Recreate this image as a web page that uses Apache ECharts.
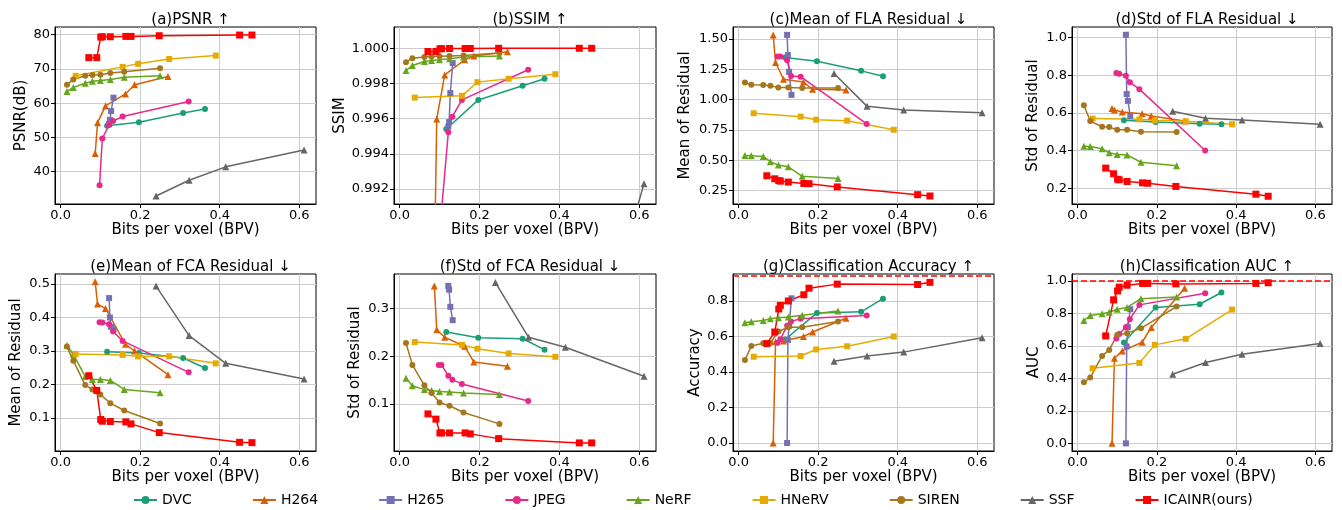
<!DOCTYPE html>
<html>
<head>
<meta charset="utf-8">
<script src="https://cdn.jsdelivr.net/npm/echarts@6/dist/echarts.min.js"></script>
<style>
html,body{margin:0;padding:0;background:#fff;}
#chart{width:1342px;height:510px;}
</style>
</head>
<body>
<div id="chart"></div>
<script>
// ---- data (method order: DVC, H264, H265, JPEG, NeRF, HNeRV, SIREN, SSF, ICAINR) ----
const methods = ['DVC', 'H264', 'H265', 'JPEG', 'NeRF', 'HNeRV', 'SIREN', 'SSF', 'ICAINR(ours)'];

const bpv = [
  [0.117, 0.197, 0.308, 0.363],
  [0.087, 0.093, 0.113, 0.163, 0.186, 0.270],
  [0.122, 0.124, 0.127, 0.133],
  [0.098, 0.105, 0.122, 0.132, 0.156, 0.322],
  [0.016, 0.032, 0.062, 0.080, 0.100, 0.125, 0.160, 0.250],
  [0.038, 0.156, 0.195, 0.273, 0.390],
  [0.016, 0.032, 0.062, 0.080, 0.100, 0.125, 0.160, 0.250],
  [0.240, 0.323, 0.415, 0.612],
  [0.071, 0.091, 0.101, 0.105, 0.125, 0.164, 0.177, 0.248, 0.450, 0.481]
];

const psnr = [
  [53.4, 54.4, 57.1, 58.3],
  [45.3, 54.3, 59.2, 62.7, 65.4, 67.8],
  [53.9, 55.1, 57.7, 61.6],
  [36.0, 49.7, 53.6, 54.8, 56.1, 60.5],
  [63.4, 64.6, 65.8, 66.4, 66.6, 66.9, 67.6, 68.0],
  [68.0, 70.6, 71.5, 72.9, 73.9],
  [65.4, 66.9, 68.0, 68.2, 68.3, 68.8, 69.2, 70.2],
  [32.9, 37.5, 41.4, 46.3],
  [73.3, 73.3, 79.3, 79.4, 79.4, 79.5, 79.5, 79.7, 79.9, 79.9]
];

const ssim = [
  [0.99541, 0.99706, 0.99786, 0.99826],
  [0.9873, 0.99598, 0.99848, 0.99934, 0.99955, 0.9998],
  [0.99555, 0.99580, 0.99745, 0.99915],
  [0.979, 0.9908, 0.99522, 0.99611, 0.99706, 0.99877],
  [0.99873, 0.99901, 0.99924, 0.9993, 0.99934, 0.9994, 0.99949, 0.99956],
  [0.99719, 0.99729, 0.99807, 0.99826, 0.99852],
  [0.9992, 0.99943, 0.9995, 0.99953, 0.99954, 0.99956, 0.99958, 0.99972],
  [0.955, 0.965, 0.977, 0.9923],
  [0.99981, 0.99981, 0.99996, 0.99997, 0.99998, 0.99998, 0.99998, 0.99999, 0.99999, 0.99999]
];

const flaMean = [
  [1.348, 1.318, 1.238, 1.194],
  [1.533, 1.307, 1.169, 1.146, 1.086, 1.08],
  [1.535, 1.368, 1.23, 1.04],
  [1.356, 1.356, 1.325, 1.196, 1.19, 0.80],
  [0.54, 0.538, 0.532, 0.488, 0.46, 0.446, 0.368, 0.35],
  [0.888, 0.86, 0.835, 0.827, 0.752],
  [1.141, 1.124, 1.121, 1.116, 1.10, 1.10, 1.097, 1.097],
  [1.216, 0.945, 0.915, 0.893],
  [0.372, 0.347, 0.332, 0.328, 0.32, 0.308, 0.307, 0.28, 0.216, 0.205]
];

const flaStd = [
  [0.561, 0.552, 0.543, 0.540],
  [0.623, 0.616, 0.605, 0.596, 0.584, 0.557],
  [1.014, 0.70, 0.664, 0.584],
  [0.811, 0.808, 0.797, 0.762, 0.726, 0.401],
  [0.424, 0.422, 0.41, 0.389, 0.38, 0.378, 0.339, 0.321],
  [0.570, 0.566, 0.561, 0.556, 0.540],
  [0.641, 0.557, 0.527, 0.525, 0.511, 0.511, 0.50, 0.499],
  [0.609, 0.572, 0.563, 0.54],
  [0.308, 0.278, 0.249, 0.246, 0.237, 0.230, 0.228, 0.211, 0.170, 0.159]
];

const fcaMean = [
  [0.298, 0.294, 0.279, 0.249],
  [0.507, 0.44, 0.427, 0.32, 0.30, 0.229],
  [0.458, 0.40, 0.372, 0.365],
  [0.386, 0.385, 0.38, 0.358, 0.33, 0.236],
  [0.316, 0.29, 0.224, 0.215, 0.215, 0.212, 0.185, 0.175],
  [0.291, 0.288, 0.284, 0.284, 0.263],
  [0.313, 0.271, 0.198, 0.185, 0.17, 0.144, 0.122, 0.083],
  [0.494, 0.346, 0.263, 0.216],
  [0.226, 0.182, 0.095, 0.09, 0.089, 0.088, 0.082, 0.056, 0.027, 0.026]
];

const fcaStd = [
  [0.251, 0.239, 0.237, 0.214],
  [0.348, 0.256, 0.240, 0.221, 0.188, 0.179],
  [0.348, 0.340, 0.304, 0.276],
  [0.182, 0.182, 0.159, 0.151, 0.142, 0.106],
  [0.154, 0.138, 0.130, 0.128, 0.126, 0.125, 0.123, 0.120],
  [0.230, 0.224, 0.216, 0.206, 0.199],
  [0.228, 0.182, 0.139, 0.123, 0.103, 0.096, 0.082, 0.058],
  [0.355, 0.240, 0.219, 0.158],
  [0.079, 0.068, 0.039, 0.039, 0.039, 0.039, 0.037, 0.027, 0.018, 0.018]
];

const accuracy = [
  [0.583, 0.733, 0.739, 0.813],
  [0.0, 0.57, 0.575, 0.60, 0.625, 0.703],
  [0.0, 0.58, 0.66, 0.815],
  [0.565, 0.585, 0.66, 0.685, 0.70, 0.718],
  [0.678, 0.683, 0.69, 0.70, 0.705, 0.71, 0.72, 0.743],
  [0.486, 0.49, 0.527, 0.545, 0.60],
  [0.467, 0.546, 0.562, 0.563, 0.628, 0.652, 0.652, 0.684],
  [0.46, 0.49, 0.512, 0.593],
  [0.56, 0.625, 0.755, 0.775, 0.80, 0.835, 0.872, 0.895, 0.893, 0.905]
];

const auc = [
  [0.62, 0.836, 0.856, 0.928],
  [0.0, 0.524, 0.569, 0.622, 0.713, 0.955],
  [0.0, 0.596, 0.715, 0.825],
  [0.645, 0.673, 0.714, 0.764, 0.852, 0.924],
  [0.756, 0.786, 0.797, 0.807, 0.825, 0.836, 0.89, 0.90],
  [0.462, 0.495, 0.606, 0.643, 0.823],
  [0.376, 0.405, 0.538, 0.575, 0.667, 0.678, 0.708, 0.842],
  [0.425, 0.497, 0.548, 0.614],
  [0.661, 0.883, 0.938, 0.961, 0.973, 0.984, 0.984, 0.981, 0.984, 0.988]
];

// reference (upper bound) lines
const accuracyRef = 0.937;
const aucRef = 0.997;

// tick labels
const xTicks = [0, 0.2, 0.4, 0.6];
const psnrTicks = [40, 50, 60, 70, 80];
const ssimTicks = [0.992, 0.994, 0.996, 0.998, 1.000];
const flaMeanTicks = [0.25, 0.5, 0.75, 1.0, 1.25, 1.5];
const flaStdTicks = [0.2, 0.4, 0.6, 0.8, 1.0];
const fcaMeanTicks = [0.1, 0.2, 0.3, 0.4, 0.5];
const fcaStdTicks = [0.1, 0.2, 0.3];
const accTicks = [0.0, 0.2, 0.4, 0.6, 0.8];
const aucTicks = [0.0, 0.2, 0.4, 0.6, 0.8, 1.0];

// ---- styling / layout ----
const colors = ['#1b9e77', '#d95f02', '#7570b3', '#e7298a', '#66a61e', '#e6ab02', '#a6761d', '#666666', '#ff0000'];
const symbols = ['circle', 'triangle', 'rect', 'circle', 'triangle', 'rect', 'circle', 'triangle', 'rect'];
const FONT = 'DejaVu Sans';

const panels = [
  {title: '(a)PSNR ↑', yName: 'PSNR(dB)', data: psnr, ticks: psnrTicks, min: 30.55, max: 82.25, dec: 0, gap: 26},
  {title: '(b)SSIM ↑', yName: 'SSIM', data: ssim, ticks: ssimTicks, min: 0.99115, max: 1.0012, dec: 3, gap: 46},
  {title: '(c)Mean of FLA Residual ↓', yName: 'Mean of Residual', data: flaMean, ticks: flaMeanTicks, min: 0.139, max: 1.60, dec: 2, gap: 40},
  {title: '(d)Std of FLA Residual ↓', yName: 'Std of Residual', data: flaStd, ticks: flaStdTicks, min: 0.118, max: 1.055, dec: 1, gap: 31},
  {title: '(e)Mean of FCA Residual ↓', yName: 'Mean of Residual', data: fcaMean, ticks: fcaMeanTicks, min: 0.001, max: 0.53, dec: 1, gap: 31},
  {title: '(f)Std of FCA Residual ↓', yName: 'Std of Residual', data: fcaStd, ticks: fcaStdTicks, min: 0.001, max: 0.373, dec: 1, gap: 31},
  {title: '(g)Classification Accuracy ↑', yName: 'Accuracy', data: accuracy, ticks: accTicks, min: -0.045, max: 0.952, dec: 1, gap: 30, ref: accuracyRef},
  {title: '(h)Classification AUC ↑', yName: 'AUC', data: auc, ticks: aucTicks, min: -0.047, max: 1.042, dec: 1, gap: 30, ref: aucRef}
];

const lefts = [55, 394, 733, 1072];
const widths = [261, 262, 261, 260];
const tops = [27, 274];
const H = 177;

const grids = [], xAxes = [], yAxes = [], titles = [], series = [];

panels.forEach((p, i) => {
  const col = i % 4, row = Math.floor(i / 4);
  grids.push({
    left: lefts[col], top: tops[row], width: widths[col], height: H,
    containLabel: false, outerBoundsMode: 'none',
    show: true, borderColor: '#000', borderWidth: 1, backgroundColor: 'transparent'
  });
  titles.push({
    text: p.title,
    left: lefts[col] + widths[col] / 2,
    top: row === 0 ? 8 : 255,
    textAlign: 'center',
    textStyle: {fontFamily: FONT, fontSize: 15, fontWeight: 'normal', color: '#000'}
  });
  xAxes.push({
    type: 'value', gridIndex: i, min: -0.014, max: 0.642,
    name: 'Bits per voxel (BPV)', nameLocation: 'middle', nameGap: 18,
    nameTextStyle: {fontFamily: FONT, fontSize: 15, color: '#000'},
    axisLine: {show: true, onZero: false, lineStyle: {color: '#000', width: 1}},
    axisTick: {show: true, inside: false, length: 4, customValues: xTicks, lineStyle: {color: '#000'}},
    axisLabel: {customValues: xTicks, formatter: v => v.toFixed(1), fontFamily: FONT, fontSize: 13, color: '#000', margin: 5},
    splitLine: {show: true, lineStyle: {color: '#cccccc', width: 1}}
  });
  yAxes.push({
    type: 'value', gridIndex: i, min: p.min, max: p.max,
    name: p.yName, nameLocation: 'middle', nameGap: p.gap,
    nameTextStyle: {fontFamily: FONT, fontSize: 15, color: '#000'},
    axisLine: {show: true, onZero: false, lineStyle: {color: '#000', width: 1}},
    axisTick: {show: true, inside: false, length: 4, customValues: p.ticks, lineStyle: {color: '#000'}},
    axisLabel: {customValues: p.ticks, formatter: v => v.toFixed(p.dec), fontFamily: FONT, fontSize: 13, color: '#000', margin: 5},
    splitLine: {show: true, lineStyle: {color: '#cccccc', width: 1}}
  });
  methods.forEach((m, k) => {
    const s = {
      name: m, type: 'line', xAxisIndex: i, yAxisIndex: i,
      data: bpv[k].map((x, j) => [x, p.data[k][j]]),
      symbol: symbols[k], symbolSize: k === 8 ? 7 : (symbols[k] === 'triangle' ? 7 : 6),
      showSymbol: true, clip: true,
      lineStyle: {color: colors[k], width: 1.5},
      itemStyle: {color: colors[k]},
      emphasis: {disabled: true},
      animation: false
    };
    if (k === 8 && p.ref !== undefined) {
      s.markLine = {
        silent: true, symbol: 'none', label: {show: false}, animation: false,
        lineStyle: {color: '#ff0000', type: [6, 3], width: 1.5},
        data: [{yAxis: p.ref}]
      };
    }
    series.push(s);
  });
});

const chart = echarts.init(document.getElementById('chart'), null, {renderer: 'canvas'});
chart.setOption({
  backgroundColor: '#fff',
  animation: false,
  title: titles,
  grid: grids,
  xAxis: xAxes,
  yAxis: yAxes,
  legend: {
    data: methods, left: 128, top: 488, orient: 'horizontal',
    itemWidth: 23, itemHeight: 10, itemGap: 60,
    textStyle: {fontFamily: FONT, fontSize: 14, color: '#000'}
  },
  series: series
});
</script>
</body>
</html>
